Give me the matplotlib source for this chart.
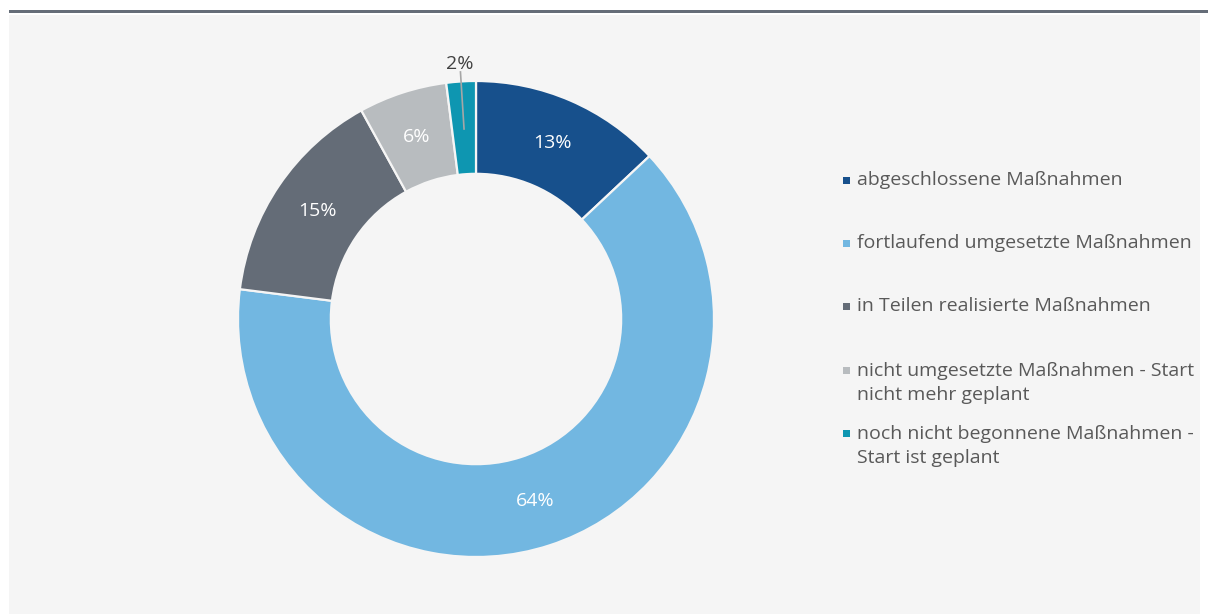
import numpy as np
import matplotlib.pyplot as plt
from matplotlib.patches import Rectangle

# status of measures, shares in percent
labels = [
    "abgeschlossene Maßnahmen",
    "fortlaufend umgesetzte Maßnahmen",
    "in Teilen realisierte Maßnahmen",
    "nicht umgesetzte Maßnahmen - Start\nnicht mehr geplant",
    "noch nicht begonnene Maßnahmen -\nStart ist geplant",
]
shares = [13, 64, 15, 6, 2]
colors = ["#17508c", "#72b7e1", "#646c77", "#b8bcbf", "#0e96b1"]

W, H = 1208, 614
plt.rcParams['font.family'] = ['Open Sans', 'DejaVu Sans']

fig = plt.figure(figsize=(W / 100, H / 100), dpi=100, facecolor="white")

# grey panel and the dark rule above it (behind the axes)
fig.patches.append(Rectangle((9 / W, 0), (1200 - 9) / W, (H - 15) / H,
                             transform=fig.transFigure, facecolor="#f5f5f5",
                             edgecolor="none", zorder=-2))
fig.patches.append(Rectangle((9 / W, (H - 13) / H), (W - 9) / W, 3 / H,
                             transform=fig.transFigure, facecolor="#656d78",
                             edgecolor="none", zorder=-2))

# donut centred at (476, 319) px, outer radius 238 px
cx, cy, r = 476, 319, 238
ax = fig.add_axes([(cx - r) / W, (H - cy - r) / H, 2 * r / W, 2 * r / H])

wedges, texts, autotexts = ax.pie(
    shares, colors=colors, startangle=90, counterclock=False, radius=1.0,
    autopct=lambda p: f"{p:.0f}%", pctdistance=0.805,
    wedgeprops=dict(width=0.39, edgecolor="#f5f5f5", linewidth=1.6),
    textprops=dict(color="white", fontsize=14))
# pie() resets the limits, so fix them afterwards
ax.set_xlim(-1, 1)
ax.set_ylim(-1, 1)
ax.axis("off")

# small slice gets its label outside with a leader line
last = autotexts[-1]
mid = np.deg2rad(90 - 360 * (sum(shares[:-1]) + shares[-1] / 2) / sum(shares))
last.set_position((1.075 * np.cos(mid), 1.075 * np.sin(mid)))
last.set_color("#404040")
ax.plot([0.80 * np.cos(mid), 1.04 * np.cos(mid)],
        [0.80 * np.sin(mid), 1.04 * np.sin(mid)],
        color="#a6a6a6", lw=1.2, zorder=5, clip_on=False)

# legend on the right
leg_y = [180, 243, 306, 383, 446]
for lab, col, y in zip(labels, colors, leg_y):
    n = lab.count("\n")
    ytop = y - 13 * n
    fig.patches.append(Rectangle((843 / W, (H - ytop - 4) / H), 7 / W, 7 / H,
                                 transform=fig.transFigure, facecolor=col,
                                 edgecolor="none"))
    fig.text(857 / W, (H - y) / H, lab, color="#595959", fontsize=14,
             va="center", ha="left", linespacing=1.38)

fig.savefig("out.png", dpi=100, facecolor=fig.get_facecolor())
